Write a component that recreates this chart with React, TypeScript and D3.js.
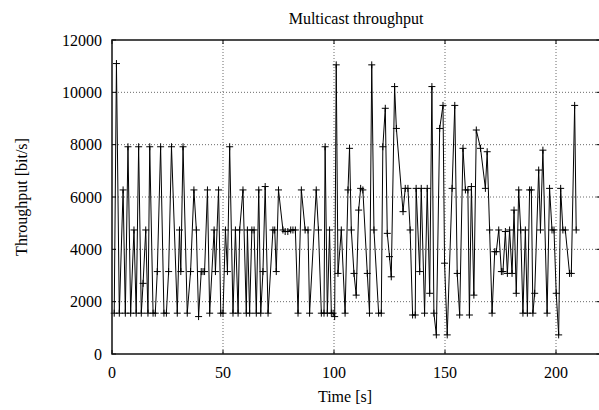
import React from "react";
import * as d3 from "d3";

const times = [
  1, 2, 3.3, 5, 6, 7.2, 8.4, 9.9, 10.9, 12, 13.2, 14, 15.2, 16.2, 17, 18.5, 19.5, 20.4, 21.9, 23.4, 24.5, 25.5, 26.8,
  29.4, 30.4, 31, 32, 33.9, 35.4, 36.9, 38, 39, 40.2, 41, 41.7, 43, 44, 46, 46.6, 48, 49, 50, 51.1, 52, 53,
  54.5, 55.6, 56.8, 57.5, 59, 60.5, 61, 62, 63, 64, 65, 66.1, 67, 68, 69, 70.3, 72.5, 73.3, 74, 75, 77, 78, 79.2, 80.5, 81.5, 82.6,
  83.8, 85.3, 87, 88.3, 89, 92, 93, 94.3, 95.5, 96, 97, 98, 98.8, 99.6, 100.3, 101, 101.8, 103.3, 105, 106.3, 107, 107.8,
  109, 110, 111.1, 112, 113, 115, 116, 117, 118, 120.1, 121.3, 122, 123.1, 124, 125, 125.8, 127.3, 128.1, 131.1, 132.1, 133.3,
  134.3, 135.4, 136.6, 137, 138.6, 139.3, 140.8, 142, 143.1, 144.1, 145, 146.1, 147.6, 149.1, 149.8, 151, 153.2, 154.4, 155.5,
  156.6, 158.1, 159.2, 160.3, 161, 161.9, 163, 164.1, 166, 168.2, 169, 170.1, 171.2, 172.4, 173.1, 174.2, 175.4, 176.1, 177.2,
  178.1, 179.1, 180.2, 181.1, 182.1, 183.2, 184.1, 185.1, 186.2, 187.1, 188.1, 188.9, 189.6, 190.4, 192.2, 193, 194.1, 196,
  197.1, 198.2, 199.1, 200.1, 201.2, 202.1, 203.1, 204.2, 206.1, 206.9, 208.4, 209.1,
];

const throughput = [
  1560, 11100, 1560, 6270, 1560, 7920, 1560, 4740, 1560, 7920, 1560, 2700, 4740, 1560, 7920, 1560, 1560, 3150, 7920, 1560, 1560, 3150, 7920,
  1560, 4740, 3150, 7920, 1560, 3150, 6270, 4740, 1430, 3150, 3150, 3150, 6270, 1560, 4740, 3150, 6270, 1560, 1560, 4740, 3150, 7920,
  1560, 4740, 1560, 4740, 6270, 1560, 4740, 1560, 4740, 4740, 1560, 6270, 1560, 3150, 6400, 1560, 4740, 4740, 3150, 6270, 4740, 4680, 4680, 4740, 4740, 4740,
  1560, 6270, 4740, 4740, 1560, 6270, 4740, 1560, 1560, 7920, 1560, 4740, 1560, 1560, 1430, 11050, 3080, 4740, 1560, 6270, 7860, 4740,
  3080, 2250, 5500, 6330, 6270, 3080, 1560, 11050, 4740, 1560, 1560, 7920, 9390, 4610, 3720, 2950, 10220, 8620, 5440, 6330, 6330,
  4740, 1490, 1490, 6330, 3150, 6330, 1560, 6330, 2320, 10220, 1560, 730, 8620, 9500, 3470, 730, 6330, 9500, 3080,
  1490, 7860, 6270, 6270, 1490, 6400, 2250, 8560, 7860, 6330, 7730, 4740, 1560, 3910, 3910, 4740, 3150, 3150, 4680,
  3080, 4740, 3080, 5500, 2320, 6270, 4740, 1560, 4740, 1560, 6270, 6270, 1560, 2320, 7030, 4740, 7790, 1560,
  6330, 4740, 4740, 2320, 730, 6330, 4740, 4740, 3080, 3080, 9500, 4740,
];

const xTicks = [0, 50, 100, 150, 200];
const yTicks = [0, 2000, 4000, 6000, 8000, 10000, 12000];

const W = 599;
const H = 410;
const left = 112;
const right = 600.4;
const top = 40;
const bottom = 354;
const FONT = "'Liberation Serif', 'Times New Roman', serif";

export default function App() {
  const x = d3.scaleLinear().domain([0, 220]).range([left, right]);
  const y = d3.scaleLinear().domain([0, 12000]).range([bottom, top]);
  const data = times.map((t, i) => [t, throughput[i]] as [number, number]);
  const line = d3
    .line<[number, number]>()
    .x((d) => x(d[0]))
    .y((d) => y(d[1]));
  const tl = 4;
  const ms = 3.5;

  return (
    <svg
      width={W}
      height={H}
      style={{ position: "absolute", left: 0, top: 0, background: "#fff" }}
      fontFamily={FONT}
    >
      <rect x={0} y={0} width={W} height={H} fill="#fff" />
      {/* grid */}
      {yTicks
        .filter((v) => v > 0 && v < 12000)
        .map((v) => (
          <line
            key={"gy" + v}
            x1={left}
            x2={right}
            y1={y(v)}
            y2={y(v)}
            stroke="#444"
            strokeWidth={0.8}
            strokeDasharray="1,2"
          />
        ))}
      {xTicks
        .filter((v) => v > 0)
        .map((v) => (
          <line
            key={"gx" + v}
            x1={x(v)}
            x2={x(v)}
            y1={top}
            y2={bottom}
            stroke="#444"
            strokeWidth={0.8}
            strokeDasharray="1,2"
          />
        ))}
      {/* ticks */}
      {yTicks.map((v) => (
        <g key={"ty" + v} stroke="#000" strokeWidth={1}>
          <line x1={left} x2={left + tl} y1={y(v)} y2={y(v)} />
          <line x1={right - tl} x2={right} y1={y(v)} y2={y(v)} />
        </g>
      ))}
      {xTicks.map((v) => (
        <g key={"tx" + v} stroke="#000" strokeWidth={1}>
          <line x1={x(v)} x2={x(v)} y1={bottom} y2={bottom - tl} />
          <line x1={x(v)} x2={x(v)} y1={top} y2={top + tl} />
        </g>
      ))}
      {/* data line */}
      <path d={line(data) || ""} fill="none" stroke="#000" strokeWidth={1} />
      {data.map((d, i) => (
        <g key={"p" + i} stroke="#000" strokeWidth={1}>
          <line x1={x(d[0]) - ms} x2={x(d[0]) + ms} y1={y(d[1])} y2={y(d[1])} />
          <line x1={x(d[0])} x2={x(d[0])} y1={y(d[1]) - ms} y2={y(d[1]) + ms} />
        </g>
      ))}
      {/* frame */}
      <rect
        x={left}
        y={top}
        width={right - left}
        height={bottom - top}
        fill="none"
        stroke="#111"
        strokeWidth={1.5}
      />
      {/* tick labels */}
      {yTicks.map((v) => (
        <text
          key={"ly" + v}
          x={102}
          y={y(v)}
          dy="0.35em"
          textAnchor="end"
          fontSize={16}
          fill="#000"
        >
          {v}
        </text>
      ))}
      {xTicks.map((v) => (
        <text
          key={"lx" + v}
          x={x(v)}
          y={378}
          textAnchor="middle"
          fontSize={16}
          fill="#000"
        >
          {v}
        </text>
      ))}
      <text x={345} y={402} textAnchor="middle" fontSize={16} fill="#000">
        Time [s]
      </text>
      <text
        transform={`translate(27,197) rotate(-90)`}
        textAnchor="middle"
        fontSize={16}
        fill="#000"
      >
        Throughput [bit/s]
      </text>
      <text x={356} y={24} textAnchor="middle" fontSize={16} fill="#000">
        Multicast throughput
      </text>
    </svg>
  );
}
